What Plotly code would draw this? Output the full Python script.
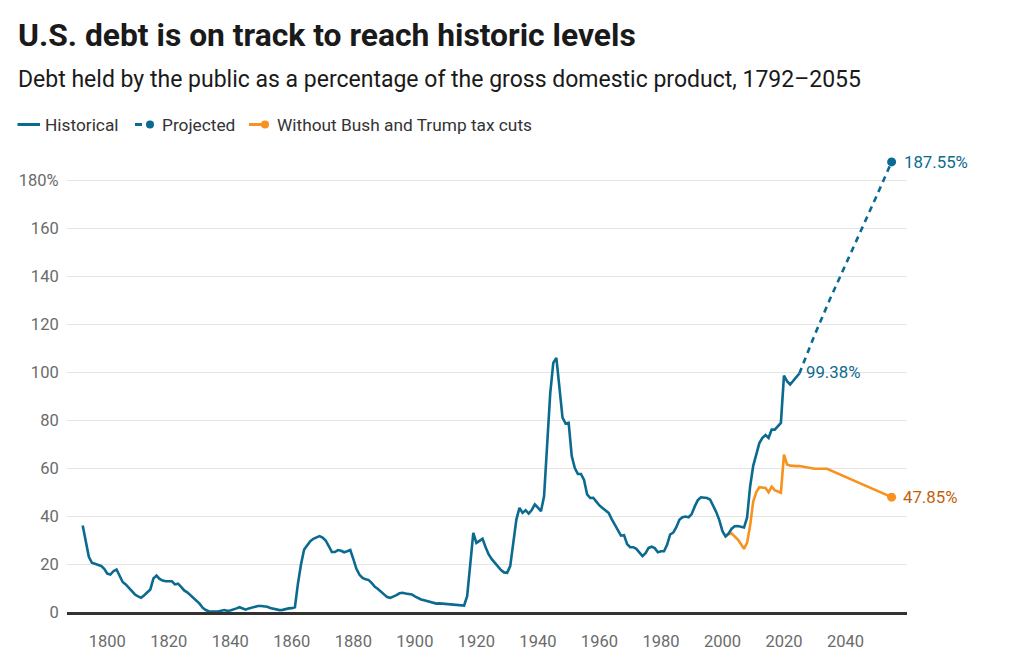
import plotly.graph_objects as go

# debt held by the public, % of GDP
hist_years = [
    1792, 1793, 1794, 1795, 1796, 1797, 1798, 1799, 1800, 1801, 1802, 1803, 1804, 1805,
    1806, 1807, 1808, 1809, 1810, 1811, 1812, 1813, 1814, 1815, 1816, 1817, 1818, 1819,
    1820, 1821, 1822, 1823, 1824, 1825, 1826, 1827, 1828, 1829, 1830, 1831, 1832, 1833,
    1834, 1836, 1838, 1839, 1840, 1841, 1842, 1843, 1844, 1845, 1846, 1847, 1848, 1849,
    1850, 1851, 1852, 1853, 1854, 1855, 1856, 1857, 1858, 1859, 1860, 1861, 1862, 1863,
    1864, 1865, 1866, 1867, 1868, 1869, 1870, 1871, 1872, 1873, 1874, 1875, 1876, 1877,
    1878, 1879, 1880, 1881, 1882, 1883, 1884, 1885, 1886, 1887, 1888, 1889, 1890, 1891,
    1892, 1893, 1894, 1895, 1896, 1897, 1898, 1899, 1900, 1901, 1902, 1903, 1904, 1905,
    1906, 1907, 1908, 1909, 1910, 1911, 1912, 1913, 1914, 1915, 1916, 1917, 1918, 1919,
    1920, 1921, 1922, 1923, 1924, 1925, 1926, 1927, 1928, 1929, 1930, 1931, 1932, 1933,
    1934, 1935, 1936, 1937, 1938, 1939, 1940, 1941, 1942, 1943, 1944, 1945, 1946, 1947,
    1948, 1949, 1950, 1951, 1952, 1953, 1954, 1955, 1956, 1957, 1958, 1959, 1960, 1961,
    1962, 1963, 1964, 1965, 1966, 1967, 1968, 1969, 1970, 1971, 1972, 1973, 1974, 1975,
    1976, 1977, 1978, 1979, 1980, 1981, 1982, 1983, 1984, 1985, 1986, 1987, 1988, 1989,
    1990, 1991, 1992, 1993, 1994, 1995, 1996, 1997, 1998, 1999, 2000, 2001, 2002, 2003,
    2004, 2005, 2006, 2007, 2008, 2009, 2010, 2011, 2012, 2013, 2014, 2015, 2016, 2017,
    2018, 2019, 2020, 2021, 2022, 2023, 2024, 2025,
]
hist_values = [
    36.0, 29.0, 23.0, 20.5, 20.0, 19.6, 19.2, 18.0, 16.0, 15.6, 17.0, 17.7, 15.0, 12.5,
    11.5, 10.0, 8.8, 7.3, 6.5, 5.9, 7.0, 8.3, 9.4, 14.0, 15.2, 13.8, 13.1, 12.8,
    12.8, 12.8, 11.5, 11.8, 10.5, 9.0, 8.2, 7.0, 6.0, 4.8, 3.5, 1.8, 0.8, 0.3,
    0.2, 0.2, 0.8, 0.5, 0.6, 0.9, 1.5, 2.0, 1.6, 1.0, 1.5, 1.8, 2.3, 2.5,
    2.5, 2.5, 2.2, 1.7, 1.3, 1.0, 0.8, 0.9, 1.3, 1.5, 1.6, 2.0, 12.0, 20.0,
    26.0, 28.0, 29.5, 30.5, 31.2, 31.6, 31.0, 29.8, 27.5, 25.0, 25.0, 25.8, 25.5, 24.9,
    25.3, 25.8, 22.0, 18.0, 15.5, 14.2, 13.6, 13.3, 12.0, 10.5, 9.6, 8.5, 7.0, 6.2,
    5.9, 6.4, 7.0, 7.8, 8.0, 7.7, 7.5, 7.3, 6.5, 5.8, 5.2, 4.9, 4.6, 4.2,
    3.7, 3.5, 3.6, 3.5, 3.5, 3.5, 3.4, 3.2, 3.0, 2.8, 2.7, 6.6, 20.0, 33.0,
    28.8, 29.5, 30.5, 27.0, 24.0, 22.0, 20.5, 19.1, 17.5, 16.5, 16.3, 19.1, 30.0, 38.5,
    43.4, 41.3, 42.4, 41.0, 42.5, 44.8, 43.5, 42.0, 48.2, 72.0, 91.0, 103.8, 105.9, 93.5,
    81.0, 78.5, 78.8, 65.0, 60.0, 57.5, 57.5, 55.0, 49.0, 47.5, 47.6, 46.0, 44.4, 43.3,
    42.3, 41.3, 38.7, 36.5, 34.0, 31.8, 32.0, 28.3, 27.0, 27.0, 26.3, 25.0, 23.3, 24.5,
    26.7, 27.2, 26.6, 24.9, 25.3, 25.3, 28.0, 32.3, 33.1, 35.3, 38.4, 39.5, 39.8, 39.5,
    40.8, 44.0, 46.6, 47.8, 47.7, 47.5, 46.8, 44.5, 41.6, 38.2, 33.7, 31.5, 32.7, 34.7,
    35.7, 35.8, 35.4, 35.2, 39.3, 52.3, 60.9, 65.9, 70.4, 72.6, 73.7, 72.5, 76.0, 76.0,
    77.4, 78.8, 98.5, 96.2, 94.8, 96.5, 98.0, 99.38,
]

proj_years = [2025, 2030, 2035, 2040, 2045, 2050, 2055]
proj_values = [99.38, 115.5, 130.5, 144.5, 159.0, 173.0, 187.55]

cuts_years = [2001, 2002, 2003, 2004, 2005, 2006, 2007, 2008, 2009, 2010, 2011, 2012,
              2013, 2014, 2015, 2016, 2017, 2018, 2019, 2020, 2021, 2022, 2023, 2024,
              2025, 2030, 2034, 2055]
cuts_values = [31.5, 32.4, 32.7, 31.5, 30.2, 28.3, 26.3, 28.8, 36.0, 46.0, 50.0, 52.0,
               52.0, 51.7, 49.9, 52.2, 50.8, 50.3, 49.7, 65.6, 61.5, 61.0, 60.8, 60.8,
               60.8, 59.7, 59.7, 47.85]

x_ticks = [1800, 1820, 1840, 1860, 1880, 1900, 1920, 1940, 1960, 1980, 2000, 2020, 2040]
y_ticks = [0, 20, 40, 60, 80, 100, 120, 140, 160, 180]
y_ticktext = ["0", "20", "40", "60", "80", "100", "120", "140", "160", "180%"]

BLUE = "#0b6a90"
ORANGE = "#f7921e"
ORANGE_TEXT = "#c0620c"
FONT = "Roboto"

W, H = 1024, 656
ML, MR, MT, MB = 59, 125, 148, 52
PW, PH = W - ML - MR, H - MT - MB


def px(x):
    # figure pixel -> paper x
    return (x - ML) / PW


def py(y):
    # figure pixel -> paper y
    return (H - MB - y) / PH


fig = go.Figure()

fig.add_trace(go.Scatter(x=cuts_years, y=cuts_values, mode="lines",
                         line=dict(color=ORANGE, width=2.6), hoverinfo="skip"))
fig.add_trace(go.Scatter(x=proj_years, y=proj_values, mode="lines",
                         line=dict(color=BLUE, width=2.6, dash="6px,5px"),
                         hoverinfo="skip"))
fig.add_trace(go.Scatter(x=hist_years, y=hist_values, mode="lines",
                         line=dict(color=BLUE, width=2.6), hoverinfo="skip"))

# end point dots
fig.add_trace(go.Scatter(x=[proj_years[-1]], y=[proj_values[-1]], mode="markers",
                         marker=dict(color=BLUE, size=9), cliponaxis=False))
fig.add_trace(go.Scatter(x=[cuts_years[-1]], y=[cuts_values[-1]], mode="markers",
                         marker=dict(color=ORANGE, size=9), cliponaxis=False))

# value labels
fig.add_annotation(x=proj_years[-1], y=proj_values[-1], text="187.55%",
                   showarrow=False, xanchor="left", xshift=10,
                   font=dict(family=FONT, size=16.8, color=BLUE))
fig.add_annotation(x=hist_years[-1], y=hist_values[-1], text="99.38%",
                   showarrow=False, xanchor="left", xshift=5, yshift=1,
                   font=dict(family=FONT, size=16.8, color=BLUE))
fig.add_annotation(x=cuts_years[-1], y=cuts_values[-1], text="47.85%",
                   showarrow=False, xanchor="left", xshift=9,
                   font=dict(family=FONT, size=16.8, color=ORANGE_TEXT))

# subtitle
fig.add_annotation(xref="paper", yref="paper", x=px(8), y=py(72),
                   xanchor="left", yanchor="middle", showarrow=False,
                   text="Debt held by the public as a percentage of the gross domestic product, 1792–2055",
                   font=dict(family=FONT, size=23, color="#1a1a1a"))

# hand-made legend row
LEG_Y = 116.5
shapes = [
    dict(type="line", xref="paper", yref="paper", x0=px(9.5), x1=px(32), y0=py(LEG_Y), y1=py(LEG_Y),
         line=dict(color=BLUE, width=3)),
    dict(type="line", xref="paper", yref="paper", x0=px(127), x1=px(134), y0=py(LEG_Y), y1=py(LEG_Y),
         line=dict(color=BLUE, width=3)),
    dict(type="circle", xref="paper", yref="paper", x0=px(138), x1=px(146),
         y0=py(LEG_Y + 4), y1=py(LEG_Y - 4), fillcolor=BLUE, line=dict(width=0)),
    dict(type="line", xref="paper", yref="paper", x0=px(241), x1=px(256), y0=py(LEG_Y), y1=py(LEG_Y),
         line=dict(color=ORANGE, width=3)),
    dict(type="circle", xref="paper", yref="paper", x0=px(253), x1=px(261),
         y0=py(LEG_Y + 4), y1=py(LEG_Y - 4), fillcolor=ORANGE, line=dict(width=0)),
]
for label, lx in [("Historical", 35), ("Projected", 151.5), ("Without Bush and Trump tax cuts", 267)]:
    fig.add_annotation(xref="paper", yref="paper", x=px(lx), y=py(LEG_Y),
                       xanchor="left", yanchor="middle", showarrow=False, text=label,
                       font=dict(family=FONT, size=17.3, color="#333333"))

fig.update_layout(
    width=W, height=H,
    margin=dict(l=ML, r=MR, t=MT, b=MB),
    paper_bgcolor="white", plot_bgcolor="white",
    font=dict(family=FONT, color="#666666"),
    showlegend=False,
    shapes=shapes,
    title=dict(text="<b>U.S. debt is on track to reach historic levels</b>",
               x=10 / W, xanchor="left", xref="container",
               y=1 - 27 / H, yanchor="middle", yref="container",
               font=dict(family=FONT, size=31.8, color="#1a1a1a")),
    xaxis=dict(range=[1786.9, 2060.0], tickvals=x_ticks, showgrid=False,
               showline=True, linecolor="#333333", linewidth=2.5,
               ticks="outside", ticklen=12, tickcolor="rgba(0,0,0,0)",
               tickfont=dict(family=FONT, size=16.5, color="#6b6b6b"),
               zeroline=False, fixedrange=True, automargin=False),
    yaxis=dict(range=[0, 190], tickvals=y_ticks, ticktext=y_ticktext,
               showgrid=True, gridcolor="#e4e4e4", gridwidth=1,
               zeroline=False, showline=False,
               ticks="outside", ticklen=4, tickcolor="rgba(0,0,0,0)",
               tickfont=dict(family=FONT, size=16.5, color="#6b6b6b"),
               fixedrange=True, automargin=False),
)

fig.write_html("out.html")
